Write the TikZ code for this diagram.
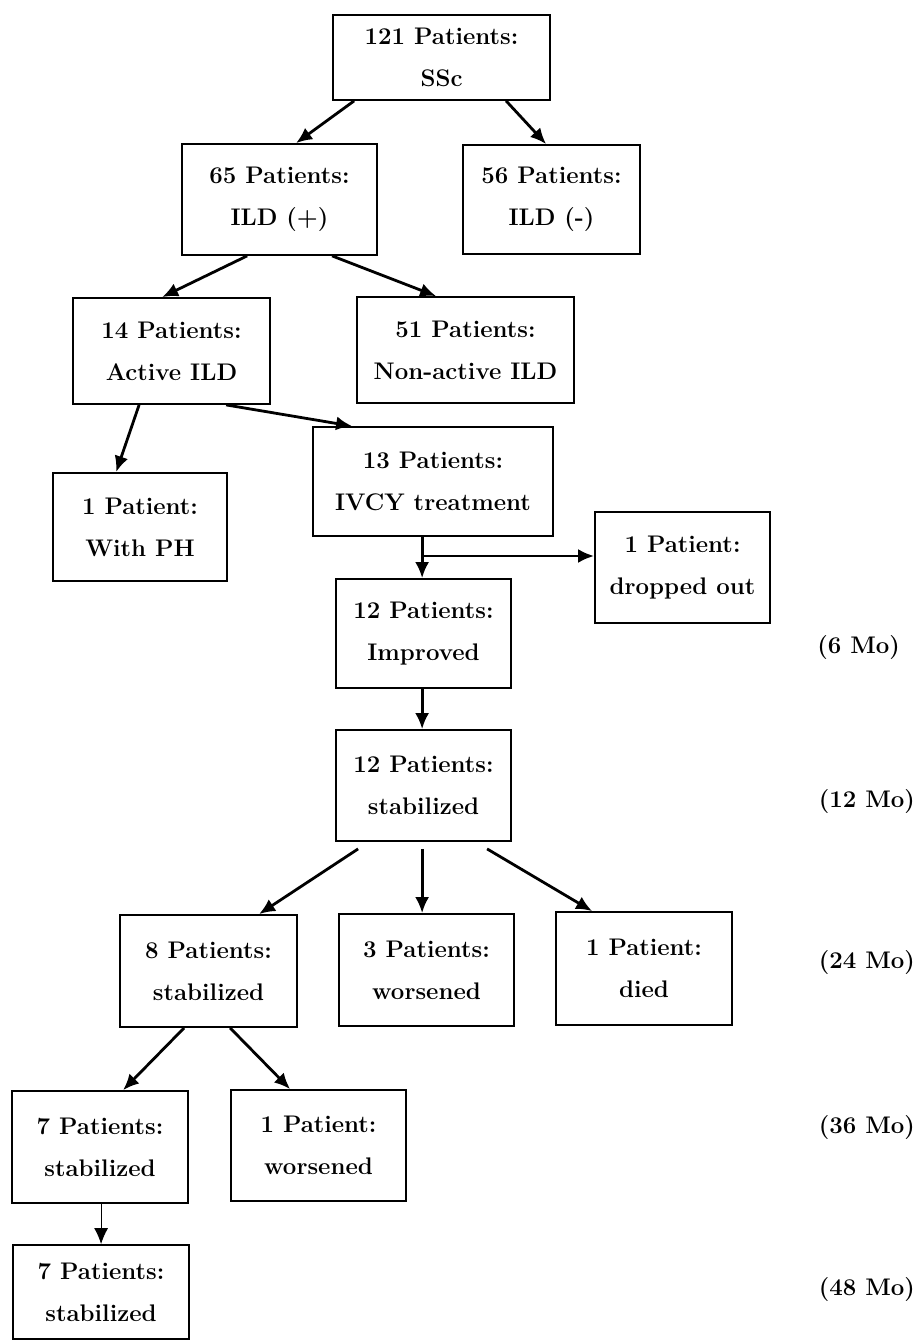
\documentclass[tikz,border=0pt]{standalone}
\usetikzlibrary{arrows.meta}
\tikzset{
	box/.style={draw=black, line width=0.9pt, align=center, inner sep=0pt, font=\fontsize{12}{21}\selectfont\bfseries},
	arr/.style={line width=1.4pt, -{Latex[length=8pt,width=7pt]}},
	thinarr/.style={line width=0.5pt, -{Latex[length=8pt,width=7pt]}},
	mo/.style={anchor=east, font=\fontsize{12}{14}\selectfont\bfseries}
}
\begin{document}
\begin{tikzpicture}[x=0.5pt, y=-0.5pt]
	\useasboundingbox (0,0) rectangle (924,1342);
	\node[box, minimum width=108.5pt, minimum height=42.5pt] (ssc) at (441.5,57.5) {121 Patients:\\SSc};
	\node[box, minimum width=97.5pt, minimum height=55.5pt] (ildp) at (279.5,199.5) {65 Patients:\\ILD (+)};
	\node[box, minimum width=88.5pt, minimum height=54.5pt] (ildm) at (551.5,199.5) {56 Patients:\\ILD (-)};
	\node[box, minimum width=98.5pt, minimum height=53pt] (active) at (171.5,351) {14 Patients:\\Active ILD};
	\node[box, minimum width=108.5pt, minimum height=53pt] (nonactive) at (465.5,350) {51 Patients:\\Non-active ILD};
	\node[box, minimum width=120pt, minimum height=54.5pt] (ivcy) at (433,481.5) {13 Patients:\\IVCY treatment};
	\node[box, minimum width=87pt, minimum height=54pt] (ph) at (140,527) {1 Patient:\\With PH};
	\node[box, minimum width=87.5pt, minimum height=55.5pt] (drop) at (682.5,567.5) {1 Patient:\\dropped out};
	\node[box, minimum width=87.5pt, minimum height=54.5pt] (impr) at (423.5,633.5) {12 Patients:\\Improved};
	\node[box, minimum width=87.5pt, minimum height=55.5pt] (stabA) at (423.5,785.5) {12 Patients:\\stabilized};
	\node[box, minimum width=88.5pt, minimum height=56pt] (stabB) at (208.5,971) {8 Patients:\\stabilized};
	\node[box, minimum width=87.5pt, minimum height=56pt] (worseA) at (426.5,970) {3 Patients:\\worsened};
	\node[box, minimum width=88pt, minimum height=56.5pt] (died) at (644,968.5) {1 Patient:\\died};
	\node[box, minimum width=88pt, minimum height=56pt] (stabC) at (100,1147) {7 Patients:\\stabilized};
	\node[box, minimum width=87.5pt, minimum height=55.5pt] (worseB) at (318.5,1145.5) {1 Patient:\\worsened};
	\node[box, minimum width=88pt, minimum height=47pt] (stabD) at (101,1292) {7 Patients:\\stabilized};
	% months
	\node[mo] (mo6) at (907,648) {(6 Mo)};
	\node[mo] (mo12) at (922,802) {(12 Mo)};
	\node[mo] (mo24) at (922,963) {(24 Mo)};
	\node[mo] (mo36) at (922,1127) {(36 Mo)};
	\node[mo] (mo48) at (922,1289) {(48 Mo)};
	% arrows
	\draw[arr] ([shift={(22,0)}]ssc.south west) -- ([shift={(115,0)}]ildp.north west);
	\draw[arr] ([shift={(174,0)}]ssc.south west) -- ([shift={(84,0)}]ildm.north west);
	\draw[arr] ([shift={(66,0)}]ildp.south west) -- ([shift={(90,0)}]active.north west);
	\draw[arr] ([shift={(151,0)}]ildp.south west) -- ([shift={(80,0)}]nonactive.north west);
	\draw[arr] ([shift={(67,0)}]active.south west) -- ([shift={(64,0)}]ph.north west);
	\draw[arr] ([shift={(154,0)}]active.south west) -- ([shift={(40,0)}]ivcy.north west);
	\draw[arr] ([shift={(110,0)}]ivcy.south west) -- ([shift={(87,0)}]impr.north west);
	\coordinate (split) at (423,556);
	\draw[arr] (split) -- (split -| drop.west);
	\draw[arr] ([shift={(87,0)}]impr.south west) -- ([shift={(87,0)}]stabA.north west);
	\draw[arr] ([shift={(23,7)}]stabA.south west) -- ([shift={(140,0)}]stabB.north west);
	\draw[arr] ([shift={(87,7)}]stabA.south west) -- ([shift={(84,0)}]worseA.north west);
	\draw[arr] ([shift={(152,7)}]stabA.south west) -- ([shift={(37,0)}]died.north west);
	\draw[arr] ([shift={(65,0)}]stabB.south west) -- ([shift={(112,0)}]stabC.north west);
	\draw[arr] ([shift={(111,0)}]stabB.south west) -- ([shift={(60,0)}]worseB.north west);
	\draw[thinarr] ([shift={(90,0)}]stabC.south west) -- ([shift={(89,0)}]stabD.north west);
\end{tikzpicture}
\end{document}
